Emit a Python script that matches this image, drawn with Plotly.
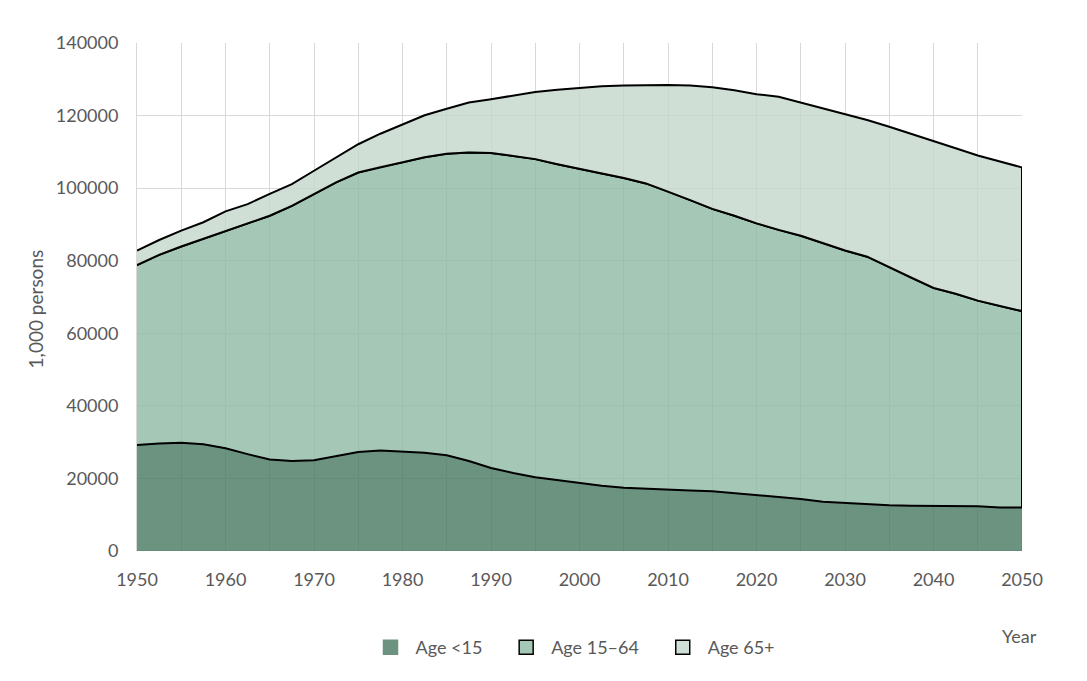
import numpy as np
import plotly.graph_objects as go

# Japan population by age group, thousands of persons
years = [1950 + 2.5 * i for i in range(41)]

age_under_15 = [
    29200, 29650, 29800, 29400, 28300, 26700, 25200, 24800, 25000, 26100,
    27300, 27700, 27500, 27100, 26400, 24800, 22900, 21500, 20300, 19700,
    18800, 18000, 17400, 17100, 16900, 16700, 16500, 15900, 15400, 14900,
    14300, 13600, 13100, 12900, 12600, 12500, 12300, 12300, 12300, 12000,
    12000,
]
age_15_64 = [
    49600, 51950, 54100, 56600, 60000, 63600, 67200, 70300, 73400, 75500,
    77000, 78200, 79600, 81400, 83100, 85000, 86800, 87400, 87700, 86900,
    86400, 86000, 85400, 84200, 82200, 80000, 77800, 76500, 74900, 73600,
    72600, 71300, 69700, 68200, 65600, 62800, 60200, 58600, 56700, 55500,
    54100,
]
age_65_plus = [
    4000, 4100, 4400, 4600, 5300, 5300, 6000, 6000, 6400, 6800,
    7800, 9100, 10500, 11600, 12400, 13800, 14800, 16700, 18500, 20500,
    22500, 24100, 25500, 27100, 29300, 31600, 33500, 34600, 35600, 36700,
    36700, 37100, 37700, 37700, 38700, 39700, 40500, 40100, 40000, 39800,
    39600,
]

series_names = ["Age <15", "Age 15\u201364", "Age 65+"]
fills = ["rgba(71,119,96,0.8)", "rgba(143,185,163,0.8)", "rgba(195,215,203,0.8)"]
legend_fills = ["rgb(108,146,128)", "rgb(165,199,181)", "rgb(207,223,213)"]
edge_widths = [0, 2, 2]

x = np.array(years)
stack = np.cumsum(np.array([age_under_15, age_15_64, age_65_plus]), axis=0)
bottoms = [np.zeros(len(x)), stack[0], stack[1]]

fig = go.Figure()

# each band as a closed polygon so the outline includes the vertical edges
for i in range(3):
    fig.add_trace(go.Scatter(
        x=np.concatenate([x, x[::-1]]),
        y=np.concatenate([stack[i], bottoms[i][::-1]]),
        fill="toself",
        fillcolor=fills[i],
        mode="lines",
        line=dict(color="black", width=edge_widths[i] if edge_widths[i] else 0.1),
        showlegend=False,
        hoverinfo="skip",
    ))

# legend entries
for i in range(3):
    fig.add_trace(go.Scatter(
        x=[None], y=[None],
        mode="markers",
        name=series_names[i] + "\u00a0\u00a0\u00a0",
        marker=dict(
            symbol="square", size=14, color=legend_fills[i],
            line=dict(color="black" if edge_widths[i] else legend_fills[i], width=1.5),
        ),
    ))

fig.update_layout(
    width=1087,
    height=681,
    margin=dict(l=129, r=73, t=35, b=138),
    paper_bgcolor="white",
    plot_bgcolor="white",
    font=dict(family="Lato", size=17, color="#595959"),
    showlegend=True,
    legend=dict(
        orientation="h",
        x=0.5, xanchor="center",
        y=-0.19, yanchor="middle",
        font=dict(size=18, color="#595959"),
        itemwidth=40,
    ),
    annotations=[
        dict(text="Year", x=0.997, y=-0.167, xref="paper", yref="paper",
             xanchor="center", yanchor="middle", showarrow=False,
             font=dict(size=18, color="#595959")),
        dict(text="1,000 persons", x=-0.115, y=0.476, xref="paper", yref="paper",
             textangle=-90, xanchor="center", yanchor="middle", showarrow=False,
             font=dict(size=19, color="#595959")),
    ],
)

fig.update_xaxes(
    range=[1950, 2050],
    dtick=10,
    tick0=1950,
    showgrid=True,
    gridcolor="#D9D9D9",
    gridwidth=1,
    minor=dict(dtick=5, showgrid=True, gridcolor="#D9D9D9", gridwidth=1),
    zeroline=False,
    showline=False,
    ticks="outside",
    ticklen=12,
    tickcolor="rgba(0,0,0,0)",
    tickfont=dict(size=18, color="#595959"),
)
fig.update_yaxes(
    range=[0, 140000],
    dtick=20000,
    showgrid=True,
    gridcolor="#D9D9D9",
    gridwidth=1,
    zeroline=False,
    showline=True,
    linecolor="#D9D9D9",
    ticks="outside",
    ticklen=14,
    tickcolor="rgba(0,0,0,0)",
    tickformat="d",
    tickfont=dict(size=18, color="#595959"),
)

fig.write_html("out.html")
